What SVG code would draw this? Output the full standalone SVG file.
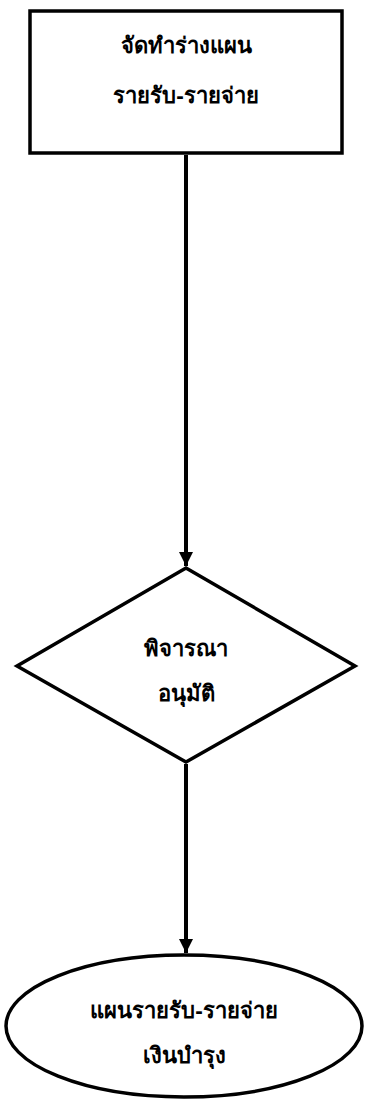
<svg xmlns="http://www.w3.org/2000/svg" width="367" height="1101" viewBox="0 0 367 1101">
<style>
.shape{fill:#fff;stroke:#000;stroke-width:3.5}
.lbl{font-family:"Noto Sans","DejaVu Sans",sans-serif;font-size:22px;font-weight:bold;fill:#000;text-anchor:middle}
.conn{stroke:#000;stroke-width:4;fill:none}
</style>
<defs>
<marker id="arr" viewBox="0 0 10 10" refX="10" refY="5" markerWidth="3.6" markerHeight="4.2" orient="auto" markerUnits="strokeWidth">
<path d="M0,0 L10,5 L0,10 z" fill="#000"/>
</marker>
</defs>
<g id="n1">
<rect class="shape" x="30" y="11" width="312" height="142"/>
<text class="lbl" x="186" y="53">จัดทำร่างแผน</text>
<text class="lbl" x="186" y="103">รายรับ-รายจ่าย</text>
</g>
<g id="n2">
<polygon class="shape" points="186,568 355,666 186,762 17,666"/>
<text class="lbl" x="186" y="656">พิจารณา</text>
<text class="lbl" x="186" y="701">อนุมัติ</text>
</g>
<g id="n3">
<ellipse class="shape" cx="184" cy="1026" rx="178" ry="71"/>
<text class="lbl" x="184" y="1018">แผนรายรับ-รายจ่าย</text>
<text class="lbl" x="184" y="1063">เงินบำรุง</text>
</g>
<g id="connectors">
<line class="conn" x1="186" y1="155" x2="186" y2="566" marker-end="url(#arr)"/>
<line class="conn" x1="186" y1="764" x2="186" y2="953" marker-end="url(#arr)"/>
</g>
</svg>
